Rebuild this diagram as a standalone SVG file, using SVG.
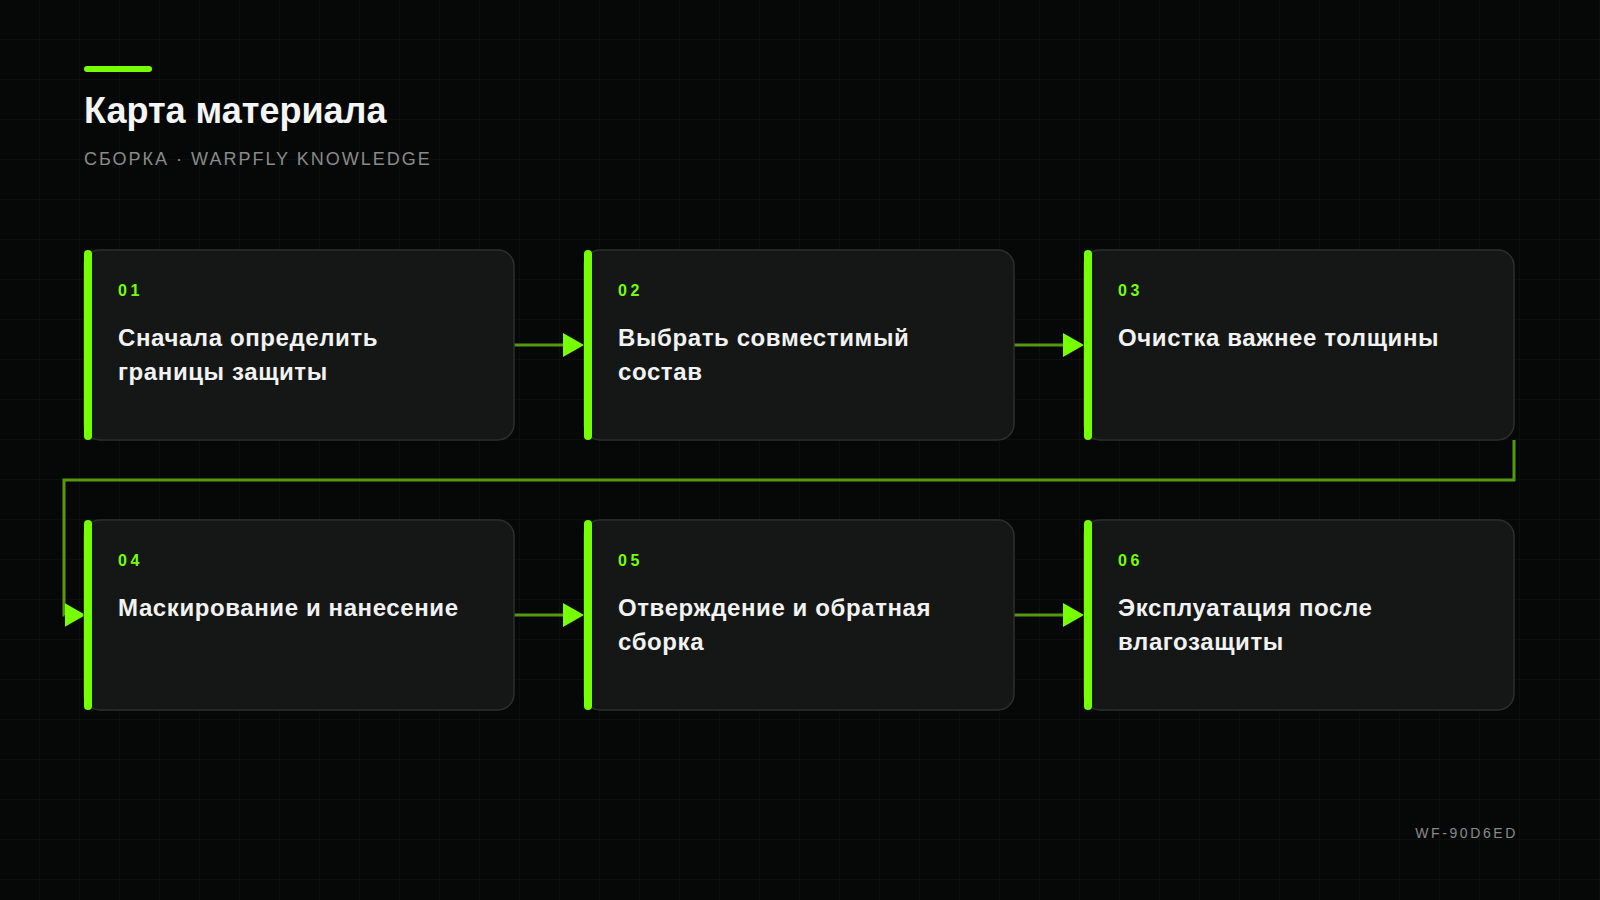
<svg xmlns="http://www.w3.org/2000/svg" width="1600" height="900" viewBox="0 0 1600 900">
  <defs>
    <pattern id="grid" width="40" height="40" patternUnits="userSpaceOnUse">
      <path d="M40 0 V40 M0 40 H40" fill="none" stroke="#121711" stroke-width="1"/>
    </pattern>
    <marker id="arrow" markerUnits="userSpaceOnUse" markerWidth="21" markerHeight="24" viewBox="0 0 21 24" refX="0" refY="12" orient="auto">
      <path d="M0 0 L21 12 L0 24 Z" fill="#76ff03"/>
    </marker>
    <style>
      .card { fill: #141715; stroke: #2c2f2c; stroke-width: 1.5; }
      .bar { fill: #76ff03; }
      .num { font-family: "Liberation Sans", Arial, sans-serif; font-weight: 700; font-size: 16px; letter-spacing: 3.5px; fill: #76ff03; }
      .label { font-family: "Liberation Sans", Arial, sans-serif; font-weight: 700; font-size: 24px; letter-spacing: 0.6px; fill: #f2f2f2; }
      .conn { fill: none; stroke: #56980f; stroke-width: 3; }
      .muted { font-family: "Liberation Sans", Arial, sans-serif; fill: #8a8a8a; }
    </style>
  </defs>

  <rect width="1600" height="900" fill="#060807"/>
  <rect width="1600" height="900" fill="url(#grid)"/>

  <g id="header">
    <rect x="84" y="66" width="68" height="6" rx="3" fill="#76ff03"/>
    <text x="84" y="123" font-family="Liberation Sans, Arial, sans-serif" font-weight="700" font-size="36" fill="#f5f5f5">Карта материала</text>
    <text class="muted" x="84" y="165" font-size="18" letter-spacing="2">СБОРКА · WARPFLY KNOWLEDGE</text>
  </g>

  <g id="connectors">
    <path class="conn" d="M514 345 H563" marker-end="url(#arrow)"/>
    <path class="conn" d="M1014 345 H1063" marker-end="url(#arrow)"/>
    <path class="conn" d="M1514 440 V480 H64 V615 H64.5" marker-end="url(#arrow)"/>
    <path class="conn" d="M514 615 H563" marker-end="url(#arrow)"/>
    <path class="conn" d="M1014 615 H1063" marker-end="url(#arrow)"/>
  </g>

  <g id="node-01">
    <rect class="card" x="84" y="250" width="430" height="190" rx="16"/>
    <rect class="bar" x="84" y="250" width="8" height="190" rx="4"/>
    <text class="num" x="118" y="296">01</text>
    <text class="label" x="118" y="346">Сначала определить</text>
    <text class="label" x="118" y="380">границы защиты</text>
  </g>

  <g id="node-02">
    <rect class="card" x="584" y="250" width="430" height="190" rx="16"/>
    <rect class="bar" x="584" y="250" width="8" height="190" rx="4"/>
    <text class="num" x="618" y="296">02</text>
    <text class="label" x="618" y="346">Выбрать совместимый</text>
    <text class="label" x="618" y="380">состав</text>
  </g>

  <g id="node-03">
    <rect class="card" x="1084" y="250" width="430" height="190" rx="16"/>
    <rect class="bar" x="1084" y="250" width="8" height="190" rx="4"/>
    <text class="num" x="1118" y="296">03</text>
    <text class="label" x="1118" y="346">Очистка важнее толщины</text>
  </g>

  <g id="node-04">
    <rect class="card" x="84" y="520" width="430" height="190" rx="16"/>
    <rect class="bar" x="84" y="520" width="8" height="190" rx="4"/>
    <text class="num" x="118" y="566">04</text>
    <text class="label" x="118" y="616">Маскирование и нанесение</text>
  </g>

  <g id="node-05">
    <rect class="card" x="584" y="520" width="430" height="190" rx="16"/>
    <rect class="bar" x="584" y="520" width="8" height="190" rx="4"/>
    <text class="num" x="618" y="566">05</text>
    <text class="label" x="618" y="616">Отверждение и обратная</text>
    <text class="label" x="618" y="650">сборка</text>
  </g>

  <g id="node-06">
    <rect class="card" x="1084" y="520" width="430" height="190" rx="16"/>
    <rect class="bar" x="1084" y="520" width="8" height="190" rx="4"/>
    <text class="num" x="1118" y="566">06</text>
    <text class="label" x="1118" y="616">Эксплуатация после</text>
    <text class="label" x="1118" y="650">влагозащиты</text>
  </g>

  <g id="footer">
    <text class="muted" x="1518" y="838" font-size="14" letter-spacing="2.6" text-anchor="end">WF-90D6ED</text>
  </g>
</svg>
